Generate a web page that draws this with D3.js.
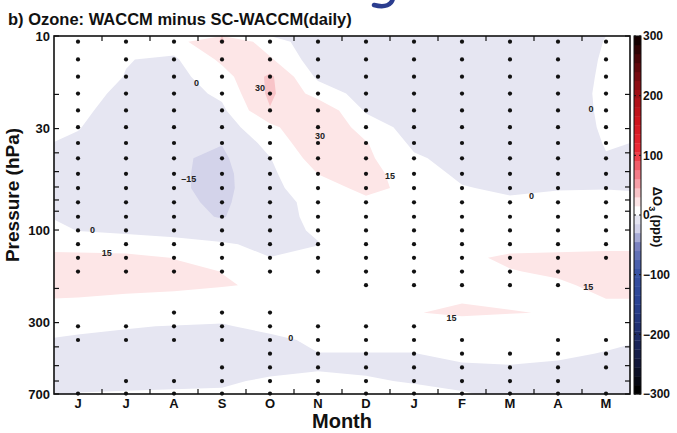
<!DOCTYPE html>
<html>
<head>
<meta charset="utf-8">
<script src="https://cdn.jsdelivr.net/npm/d3@7"></script>
<style>
  body { margin: 0; background: #fff; }
  text { font-family: "Liberation Sans", Arial, sans-serif; font-weight: bold; fill: #111; }
</style>
</head>
<body>
<svg width="677" height="433"></svg>
<script>
const months = ["J", "J", "A", "S", "O", "N", "D", "J", "F", "M", "A", "M"];
// model levels (hPa), top to bottom
const levels = [10.7, 13.2, 16.2, 19.8, 24.2, 29.5, 35.6, 42.7, 51.3, 60.8, 72.0, 85.4, 100.5,
  118.3, 139.1, 163.7, 192.5, 226.5, 266.5, 313.5, 368.8, 433.9, 510.5, 600.5, 696.8];
const yTicks = [10, 30, 100, 300, 700];
const yMinorTicks = [20, 40, 50, 60, 70, 80, 200, 400, 500, 600];
const cbarTicks = [300, 200, 100, 0, -100, -200, -300];

// delta O3 (ppb): one row per level; columns = left edge, Jun ... May, right edge
const dO3 = [
  [6, 8, 5, 8, 31.5, 6, -8, -6, -6, -5, -4, -3, 0.2, 3],
  [5, 7, 0.5, -2.2, 18, 17, -9, -7, -7, -6, -5, -4, 0.8, 3],
  [4, 6, -0.4, -5, 9, 33, -3, -7, -8, -7, -6, -5, 1.5, 3],
  [3, 4, -2.6, -7, 3, 33, 8.5, -6, -8, -8, -7, -5, 2, 3],
  [2, 2.5, -5, -8, -3, 29, 28, -1.7, -8, -8, -7, -5, 1.7, 3],
  [1.5, 0.5, -6, -9, -7, 11, 30.5, 8, -6, -8, -7, -5, 1.2, 2],
  [-0.1, -1.5, -7, -11, -14.5, 5, 27, 16, -3, -7, -6, -4, 0.35, 0],
  [-2, -4, -8, -13.3, -17.5, -0.5, 22, 18, 2, -5, -6, -3, -0.3, -1],
  [-3, -6, -9, -12.8, -19, -3, 15.2, 17, 12, -5, -6, -2.5, -1, -1.5],
  [-3, -7, -9, -12.8, -19, -4, 9, 18.5, 11.5, 1.6, -4.3, -1, -0.5, -1],
  [-2, -6, -8, -12, -17.5, -5, 4, 12, 8, 5, 4, 5, 4.5, 4],
  [-0.5, -4, -6, -10, -16, -4, 2.5, 8, 6, 6, 6, 6, 6, 6],
  [2, -0.2, -1, -6, -8, -3, 1, 6, 5, 6, 7, 7, 7, 7],
  [7, 6, 3, 6, 1.5, -3, -0.3, 5, 5, 7, 8, 8, 9, 9],
  [20.8, 21, 20.5, 14.5, 8, 0.2, 3, 4, 5, 11, 18.4, 20, 21, 21],
  [22, 23, 22, 19, 14.8, 10, 4, 4, 6, 10, 14, 18, 22, 22],
  [19, 20, 19, 17, 16, 13, 6, 5, 7, 8, 10, 12, 20, 20],
  [14.9, 14.4, 12.5, 12.5, 8, 8, 6, 7, 13, 14, 12, 12, 14.9, 14.9],
  [10, 10, 8, 7, 4, 5, 5, 7, 14.5, 17, 15.8, 14, 10, 9],
  [2, 2, 0.8, -0.5, -1, 3, 2, 5, 8, 9.7, 6, 8, 5, 4],
  [-0.4, -1.3, -3, -3, -3, -2.5, 2, 2, 2, 3, 3, 4, 2, 1],
  [-3, -4, -5, -4, -4, -4, -0.2, -0.2, -0.2, 2, 2, 1.5, -0.5, -2],
  [-4, -4, -5, -3.5, -3, -3, -1.5, -2, -2, -1.1, -0.5, -1.5, -2, -3],
  [-4, -3, -3, -2, -1.5, 1.5, 4, 1.3, -1, -2, -2, -3, -3, -3],
  [-3, 0.3, 0.9, 1.1, 1.3, 3, 3, 3, 3.8, 0.5, -1.5, -2, -2, -2]
];

// significance dots: one string per level, one character per month
const dots = [
  "111111111111", "111111111111", "111111111111", "111111111111", "111111111111",
  "111111111111", "111111111111", "111111111111", "111111111111", "111111111111",
  "111111111111", "111111111111", "111111111111", "111111111111", "111111111111",
  "111111111110", "000000111110", "000000000000", "001110000000", "111111110000",
  "111111111011", "000011111111", "000111111111", "011111111110", "111111111111"
];

// contour labels: month position (0..12) and pressure
const labelText = ["0", "30", "30", "\u201315", "15", "0", "15", "0", "0", "15", "15", "0"];
const labelMonth = [2.97, 4.29, 5.54, 2.81, 7.0, 0.80, 1.10, 11.19, 9.95, 11.13, 8.28, 4.93];
const labelP = [17.5, 18.5, 32.6, 54.4, 52.5, 100.3, 131.4, 23.7, 67, 197, 283, 359];

const svg = d3.select("svg");
const x = d3.scaleLinear().domain([0, 12]).range([54, 630]);
const y = d3.scaleLog().domain([10, 700]).range([36, 394]);

// grid coordinates (d3.contours puts value i at i + 0.5) -> pixels
const gx = d3.scaleLinear().domain([0.5, 1.5, 12.5, 13.5]).range([x(0), x(0.5), x(11.5), x(12)]);
const gy = d3.scaleLinear()
  .domain([0, ...levels.map((d, i) => i + 0.5), levels.length])
  .range([y(10), ...levels.map(y), y(700)]);

const colour = d3.scaleLinear()
  .domain([-300, -250, -200, -150, -100, -60, -30, -15, 0, 15, 30, 60, 100, 150, 200, 250, 285])
  .range(["#000000", "#141a40", "#1f2e6e", "#2a4394", "#3b56a6", "#7b82c0", "#d3d3ea", "#e6e6f2",
    "#ffffff", "#fde6e7", "#f8c4c8", "#f37c88", "#ee2a36", "#d0141d", "#9c0f16", "#520609", "#150000"]);

svg.append("clipPath").attr("id", "plotclip")
  .append("rect").attr("x", 54).attr("y", 36).attr("width", 576).attr("height", 358);

const values = dO3.flat();
const lo = Math.floor(d3.min(values) / 15) * 15;
const thresholds = d3.range(lo, 300, 15);
const contours = d3.contours().size([dO3[0].length, dO3.length]).thresholds(thresholds)(values);

const path = d3.geoPath(d3.geoTransform({
  point: function(px, py) { this.stream.point(gx(px), gy(py)); }
}));

svg.append("g").attr("clip-path", "url(#plotclip)")
  .selectAll("path")
  .data(contours)
  .join("path")
    .attr("d", path)
    .attr("fill", d => colour(d.value))
    .attr("stroke", "none");

// dots
const dotData = [];
dots.forEach((row, j) => row.split("").forEach((c, i) => { if (c === "1") dotData.push([i, levels[j]]); }));
svg.append("g").selectAll("circle")
  .data(dotData)
  .join("circle")
    .attr("cx", d => x(d[0] + 0.5))
    .attr("cy", d => y(d[1]))
    .attr("r", 2.1)
    .attr("fill", "#111");

// contour labels
svg.append("g").selectAll("text")
  .data(labelText)
  .join("text")
    .attr("x", (d, i) => x(labelMonth[i]))
    .attr("y", (d, i) => y(labelP[i]))
    .attr("dy", "0.35em")
    .attr("text-anchor", "middle")
    .attr("font-size", 9)
    .style("fill", "#222")
    .text(d => d);

// axes
const tl = 5;
const axes = svg.append("g").attr("stroke", "#111").attr("stroke-width", 1.2);
d3.range(1, 12).forEach(m => {
  axes.append("line").attr("x1", x(m)).attr("x2", x(m)).attr("y1", 394).attr("y2", 394 - tl);
  axes.append("line").attr("x1", x(m)).attr("x2", x(m)).attr("y1", 36).attr("y2", 36 + tl);
});
yTicks.concat(yMinorTicks).forEach(p => {
  axes.append("line").attr("x1", 54).attr("x2", 54 + tl).attr("y1", y(p)).attr("y2", y(p));
  axes.append("line").attr("x1", 630).attr("x2", 630 - tl).attr("y1", y(p)).attr("y2", y(p));
});
svg.append("rect").attr("x", 54).attr("y", 36).attr("width", 576).attr("height", 358)
  .attr("fill", "none").attr("stroke", "#111").attr("stroke-width", 1.6);

svg.append("g").selectAll("text")
  .data(yTicks)
  .join("text")
    .attr("x", 50).attr("y", d => y(d)).attr("dy", "0.35em")
    .attr("text-anchor", "end").attr("font-size", 13)
    .text(d => d);

svg.append("g").selectAll("text")
  .data(months)
  .join("text")
    .attr("x", (d, i) => x(i + 0.5)).attr("y", 408)
    .attr("text-anchor", "middle").attr("font-size", 13)
    .text(d => d);

svg.append("text").attr("x", x(6)).attr("y", 428).attr("text-anchor", "middle")
  .attr("font-size", 20).text("Month");
svg.append("text").attr("transform", "translate(19,195) rotate(-90)").attr("text-anchor", "middle")
  .attr("font-size", 19).text("Pressure (hPa)");
svg.append("text").attr("x", 8).attr("y", 25).attr("font-size", 16.5)
  .text("b) Ozone: WACCM minus SC-WACCM(daily)");

// fragment of the panel above
svg.append("path").attr("d", "M393,-2 C392,5 385,8 374,5")
  .attr("fill", "none").attr("stroke", "#2b3d8f").attr("stroke-width", 4.5).attr("stroke-linecap", "round");

// colour bar
const cy = d3.scaleLinear().domain([-300, 300]).range([394, 36]);
const cb = svg.append("g");
cb.selectAll("rect")
  .data(d3.range(-300, 300, 15))
  .join("rect")
    .attr("x", 634).attr("width", 7)
    .attr("y", d => cy(d + 15)).attr("height", d => cy(d) - cy(d + 15) + 0.3)
    .attr("fill", d => colour(d));
cb.append("rect").attr("x", 634).attr("y", 36).attr("width", 7).attr("height", 358)
  .attr("fill", "none").attr("stroke", "#111").attr("stroke-width", 1);
cbarTicks.forEach(v => {
  cb.append("line").attr("x1", 634).attr("x2", 636).attr("y1", cy(v)).attr("y2", cy(v)).attr("stroke", "#111");
  cb.append("line").attr("x1", 641).attr("x2", 639).attr("y1", cy(v)).attr("y2", cy(v)).attr("stroke", "#111");
});
cb.selectAll("text.cbt")
  .data(cbarTicks)
  .join("text").attr("class", "cbt")
    .attr("x", 643).attr("y", d => cy(d)).attr("dy", "0.35em")
    .attr("font-size", 12)
    .text(d => d < 0 ? "\u2212" + Math.abs(d) : d);

const cl = svg.append("text").attr("transform", "translate(653,217) rotate(90)")
  .attr("text-anchor", "middle").attr("font-size", 13);
cl.append("tspan").text("\u0394O");
cl.append("tspan").attr("font-size", 9).attr("dy", 4).text("3");
cl.append("tspan").attr("dy", -4).text(" (ppb)");
</script>
</body>
</html>
